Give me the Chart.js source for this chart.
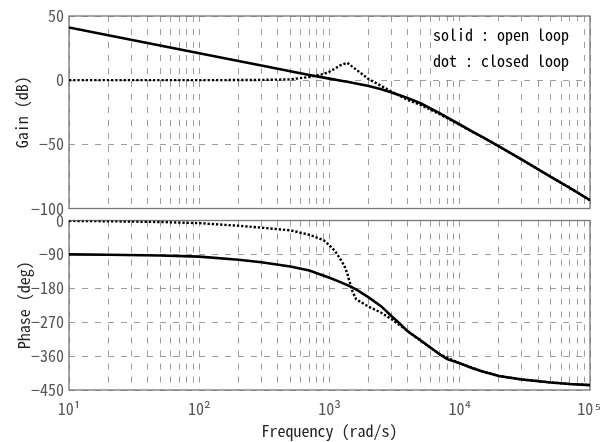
<!DOCTYPE html>
<html>
<head>
<meta charset="utf-8">
<script src="https://cdn.jsdelivr.net/npm/chart.js@4.4.0/dist/chart.umd.min.js"></script>
<style>
  body { margin: 0; background: #fff; }
  #wrap { position: relative; width: 600px; height: 442px; }
  #wrap canvas { position: absolute; left: 0; top: 0; }
</style>
</head>
<body>
<div id="wrap">
  <canvas id="gainChart" width="600" height="442"></canvas>
  <canvas id="phaseChart" width="600" height="442"></canvas>
</div>
<script>
// open loop response (solid)
const freqOpen = [10, 20, 50, 100, 200, 300, 500, 700, 1000, 1200, 1400, 1600, 2000, 2500, 3000, 3500, 4000, 5000, 7000, 8000, 10000, 12700, 15000, 20000, 30000, 50000, 70000, 100000];
const gainOpen = [41, 35, 27, 21, 15, 11.5, 7, 4.1, 1.2, -0.3, -1.5, -2.6, -4.6, -7, -9.6, -12, -14, -18, -25.7, -29, -34.4, -40.5, -44.3, -51.5, -62, -75.3, -84, -93.5];
const phaseOpen = [-90, -91, -93, -96, -104, -111, -122, -133, -152, -163, -173, -183, -204, -228, -254, -275, -295, -318, -355, -368, -379, -393, -401, -413, -422, -430, -434, -437];

// closed loop response (dotted)
const freqClosed = [10, 20, 50, 100, 200, 300, 500, 700, 900, 1000, 1100, 1200, 1300, 1370, 1400, 1500, 1600, 2000, 2500, 3000, 4000, 5000, 7000, 10000, 15000, 20000, 30000, 50000, 70000, 100000];
const gainClosed = [0, 0, 0, 0, 0.1, 0.2, 0.6, 2.5, 4.8, 6.6, 9, 11.3, 12.7, 13.5, 12.8, 10.4, 8.3, 0.8, -4.5, -8.9, -15.5, -19.3, -26.4, -35, -44.5, -51.6, -62, -75.3, -84, -93.5];
const phaseClosed = [-1, -2, -4, -7, -14, -19, -26, -38, -52, -66, -81, -100, -120, -140, -153, -188, -209, -229, -245, -262, -294, -319, -355, -379, -401, -413, -422, -430, -434, -437];

// axis ticks
const decades = [10, 100, 1000, 10000, 100000];
const gainTicks = [-100, -50, 0, 50];
const phaseTicks = [-450, -360, -270, -180, -90, 0];
const legendLines = ['solid : open loop', 'dot : closed loop'];

const FONT = '"Noto Sans Mono CJK JP", "Noto Sans CJK JP", "DejaVu Sans Mono", monospace';
const GRID = '#9d9d9d';
const SUP = { 1: '\u00b9', 2: '\u00b2', 3: '\u00b3', 4: '\u2074', 5: '\u2075' };

Chart.defaults.font.family = FONT;
Chart.defaults.font.size = 16;

// 1..9 x each decade, for the vertical grid lines
const freqGrid = [];
decades.forEach((d, i) => {
    if (i === decades.length - 1) { freqGrid.push(d); return; }
    for (let m = 1; m < 10; m++) freqGrid.push(d * m);
});

const pts = (xs, ys) => xs.map((x, i) => ({ x: x, y: ys[i] }));

function freqAxis(withLabels) {
    return {
        type: 'logarithmic',
        min: 10,
        max: 100000,
        afterBuildTicks: s => { s.ticks = freqGrid.map(v => ({ value: v })); },
        afterFit: s => {
            s.paddingLeft = 0;
            s.paddingRight = 0;
            s.height = withLabels ? 52 : 0;
        },
        grid: { color: GRID, lineWidth: 1, drawTicks: false },
        border: { display: false, dash: [6, 7] },
        ticks: {
            display: withLabels,
            autoSkip: false,
            maxRotation: 0,
            padding: 9,
            color: '#555',
            callback: v => {
                const e = Math.round(Math.log10(v));
                return Math.abs(Math.pow(10, e) - v) < 1e-6 * v ? '10' + SUP[e] : '';
            }
        },
        title: {
            display: withLabels,
            text: 'Frequency (rad/s)',
            color: '#222',
            padding: { top: 0, bottom: 1 }
        }
    };
}

function levelAxis(tickVals, label, titleGap) {
    return {
        min: tickVals[0],
        max: tickVals[tickVals.length - 1],
        afterBuildTicks: s => { s.ticks = tickVals.map(v => ({ value: v })); },
        afterFit: s => {
            s.width = 69;
            s.paddingTop = 0;
            s.paddingBottom = 0;
        },
        grid: { color: GRID, lineWidth: 1, drawTicks: false },
        border: { display: false, dash: [6, 7] },
        ticks: {
            padding: 5,
            color: '#555',
            callback: v => v < 0 ? '\u2212' + Math.abs(v) : String(v)
        },
        title: {
            display: true,
            text: label,
            color: '#222',
            padding: { top: titleGap, bottom: 0 }
        }
    };
}

// box round the plot area, under the curves
const frame = {
    id: 'frame',
    beforeDatasetsDraw(chart) {
        const { ctx, chartArea: a } = chart;
        ctx.save();
        ctx.strokeStyle = '#777';
        ctx.lineWidth = 1.3;
        ctx.strokeRect(a.left, a.top, a.right - a.left, a.bottom - a.top);
        ctx.restore();
    }
};

// text note in the upper right corner of the gain plot
const note = {
    id: 'note',
    afterDatasetsDraw(chart) {
        const ctx = chart.ctx;
        ctx.save();
        ctx.fillStyle = '#fff';
        ctx.fillRect(431, 21, 151, 54);
        ctx.fillStyle = '#000';
        ctx.font = '16px ' + FONT;
        ctx.textBaseline = 'middle';
        ctx.textAlign = 'left';
        legendLines.forEach((t, i) => ctx.fillText(t, 433, 35 + i * 26));
        ctx.restore();
    }
};

function series(xs, ys, dotted) {
    return {
        data: pts(xs, ys),
        borderColor: '#000',
        borderWidth: dotted ? 2.4 : 2.6,
        borderDash: dotted ? [2.3, 1.9] : [],
        pointRadius: 0,
        tension: 0,
        fill: false
    };
}

const common = {
    responsive: false,
    animation: false,
    devicePixelRatio: 1,
    plugins: { legend: { display: false }, tooltip: { enabled: false } }
};

new Chart(document.getElementById('gainChart'), {
    type: 'line',
    data: { datasets: [series(freqOpen, gainOpen, false), series(freqClosed, gainClosed, true)] },
    options: Object.assign({}, common, {
        layout: { padding: { top: 16, bottom: 233.5, left: 0, right: 10 } },
        scales: { x: freqAxis(false), y: levelAxis(gainTicks, 'Gain (dB)', 12) }
    }),
    plugins: [frame, note]
});

new Chart(document.getElementById('phaseChart'), {
    type: 'line',
    data: { datasets: [series(freqOpen, phaseOpen, false), series(freqClosed, phaseClosed, true)] },
    options: Object.assign({}, common, {
        layout: { padding: { top: 220.5, bottom: 0, left: 0, right: 10 } },
        scales: { x: freqAxis(true), y: levelAxis(phaseTicks, 'Phase (deg)', 14) }
    }),
    plugins: [frame]
});
</script>
</body>
</html>
